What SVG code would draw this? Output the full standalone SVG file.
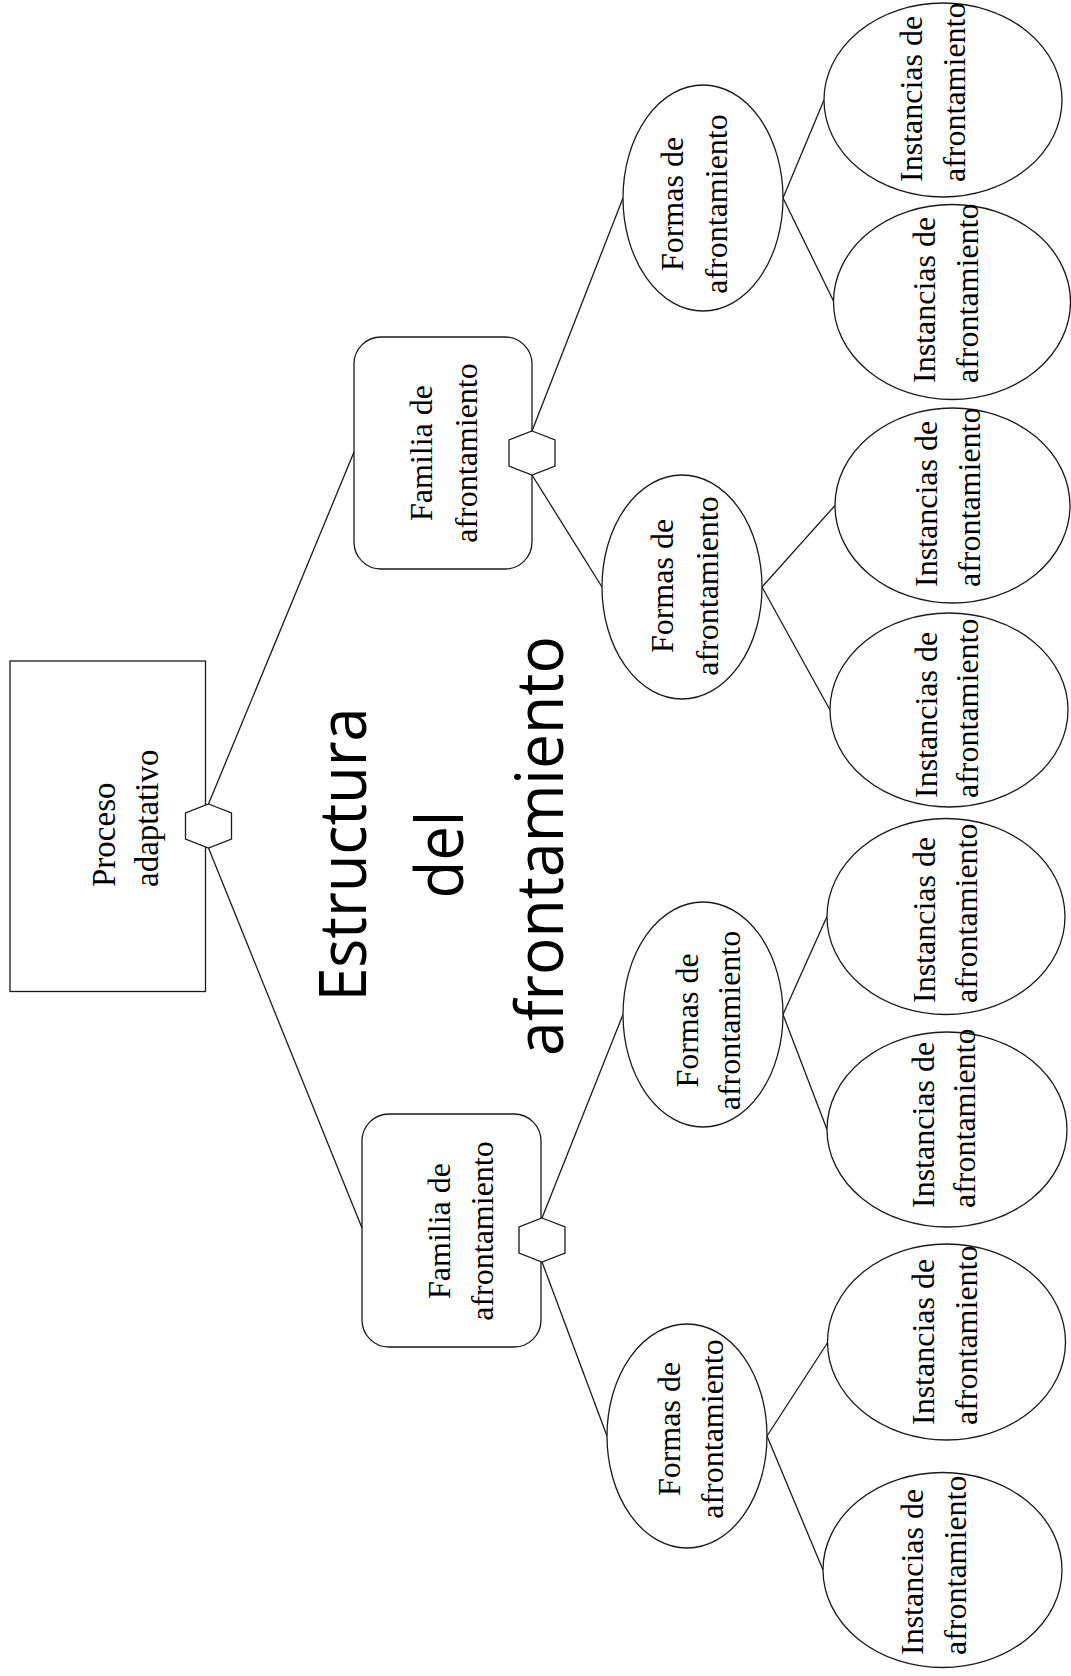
<svg xmlns="http://www.w3.org/2000/svg" width="1071" height="1676" viewBox="0 0 1071 1676">
<style>
.bg{fill:#ffffff}
.shape{fill:#ffffff;stroke:#1a1a1a;stroke-width:1.3}
.edge{fill:none;stroke:#1a1a1a;stroke-width:1.3}
.lbl{font-family:"Liberation Serif","Times New Roman",serif;font-size:32px;fill:#000}
.mid{text-anchor:middle}
.title{font-family:"Open Sans","Noto Sans",sans-serif;font-size:66px;fill:#000;text-anchor:middle}
</style>
<defs>
<polygon id="hex" points="0,-22 23,-13 23,13 0,22 -23,13 -23,-13"/>
</defs>
<rect class="bg" x="0" y="0" width="1071" height="1676"/>

<g id="connectors">
<line class="edge" x1="208.5" y1="804" x2="354" y2="452"/>
<line class="edge" x1="208.5" y1="848" x2="362" y2="1228"/>
<line class="edge" x1="532" y1="431" x2="623" y2="198"/>
<line class="edge" x1="532" y1="475" x2="602" y2="587"/>
<line class="edge" x1="542" y1="1218" x2="623" y2="1014.5"/>
<line class="edge" x1="542" y1="1262" x2="607" y2="1436"/>
<line class="edge" x1="783" y1="198" x2="824" y2="100"/>
<line class="edge" x1="783" y1="198" x2="834" y2="302"/>
<line class="edge" x1="762" y1="587" x2="835" y2="505.5"/>
<line class="edge" x1="762" y1="587" x2="830" y2="710"/>
<line class="edge" x1="783" y1="1014.5" x2="827" y2="916.5"/>
<line class="edge" x1="783" y1="1014.5" x2="827" y2="1129.5"/>
<line class="edge" x1="767" y1="1436" x2="828" y2="1342"/>
<line class="edge" x1="767" y1="1436" x2="823" y2="1570"/>
</g>

<g id="title">
<text class="title" transform="translate(0,846) rotate(-90)">
<tspan x="0" y="366" textLength="294" lengthAdjust="spacingAndGlyphs">Estructura</tspan>
<tspan x="0" y="463" textLength="88" lengthAdjust="spacingAndGlyphs">del</tspan>
<tspan x="0" y="563" textLength="420" lengthAdjust="spacingAndGlyphs">afrontamiento</tspan>
</text>
</g>

<g id="proceso">
<rect class="shape" x="10" y="661" width="195.5" height="330.5"/>
<use href="#hex" class="shape" x="208.5" y="826"/>
<text class="lbl" style="font-size:33px" transform="translate(115,887) rotate(-90)"><tspan x="0" y="0">Proceso</tspan><tspan x="0" y="43">adaptativo</tspan></text>
</g>

<g id="familia1">
<rect class="shape" x="354" y="337" width="178" height="232" rx="27" ry="27"/>
<use href="#hex" class="shape" x="532" y="453"/>
<text class="lbl mid" transform="translate(432,453) rotate(-90)"><tspan x="0" y="0">Familia de</tspan><tspan x="0" y="45">afrontamiento</tspan></text>
</g>

<g id="familia2">
<rect class="shape" x="362" y="1114" width="179" height="233" rx="27" ry="27"/>
<use href="#hex" class="shape" x="542" y="1240"/>
<text class="lbl mid" transform="translate(450,1231) rotate(-90)"><tspan x="0" y="0">Familia de</tspan><tspan x="0" y="43">afrontamiento</tspan></text>
</g>

<g id="formas1">
<ellipse class="shape" cx="703" cy="198" rx="80" ry="113"/>
<text class="lbl mid" transform="translate(683,204) rotate(-90)"><tspan x="0" y="0">Formas de</tspan><tspan x="0" y="44">afrontamiento</tspan></text>
</g>
<g id="formas2">
<ellipse class="shape" cx="682" cy="587" rx="80" ry="112"/>
<text class="lbl mid" transform="translate(673,586) rotate(-90)"><tspan x="0" y="0">Formas de</tspan><tspan x="0" y="45">afrontamiento</tspan></text>
</g>
<g id="formas3">
<ellipse class="shape" cx="703" cy="1014.5" rx="80" ry="112.5"/>
<text class="lbl mid" transform="translate(698,1020.5) rotate(-90)"><tspan x="0" y="0">Formas de</tspan><tspan x="0" y="42">afrontamiento</tspan></text>
</g>
<g id="formas4">
<ellipse class="shape" cx="687" cy="1436" rx="80" ry="112"/>
<text class="lbl mid" transform="translate(680,1429) rotate(-90)"><tspan x="0" y="0">Formas de</tspan><tspan x="0" y="43">afrontamiento</tspan></text>
</g>

<g id="instancias1">
<ellipse class="shape" cx="943" cy="100" rx="119" ry="97"/>
<text class="lbl" transform="translate(922,182) rotate(-90)"><tspan x="0" y="0">Instancias de</tspan><tspan x="0" y="43">afrontamiento</tspan></text>
</g>
<g id="instancias2">
<ellipse class="shape" cx="952" cy="302" rx="118.5" ry="97.5"/>
<text class="lbl" transform="translate(935,383) rotate(-90)"><tspan x="0" y="0">Instancias de</tspan><tspan x="0" y="43">afrontamiento</tspan></text>
</g>
<g id="instancias3">
<ellipse class="shape" cx="952.5" cy="505.5" rx="117.5" ry="97.5"/>
<text class="lbl" transform="translate(937,587) rotate(-90)"><tspan x="0" y="0">Instancias de</tspan><tspan x="0" y="43">afrontamiento</tspan></text>
</g>
<g id="instancias4">
<ellipse class="shape" cx="949" cy="710" rx="119" ry="97"/>
<text class="lbl" transform="translate(937,798) rotate(-90)"><tspan x="0" y="0">Instancias de</tspan><tspan x="0" y="41">afrontamiento</tspan></text>
</g>
<g id="instancias5">
<ellipse class="shape" cx="946" cy="916.5" rx="119" ry="98"/>
<text class="lbl" transform="translate(935,1003) rotate(-90)"><tspan x="0" y="0">Instancias de</tspan><tspan x="0" y="42">afrontamiento</tspan></text>
</g>
<g id="instancias6">
<ellipse class="shape" cx="947" cy="1129.5" rx="120" ry="97.5"/>
<text class="lbl" transform="translate(934,1208) rotate(-90)"><tspan x="0" y="0">Instancias de</tspan><tspan x="0" y="41">afrontamiento</tspan></text>
</g>
<g id="instancias7">
<ellipse class="shape" cx="946.5" cy="1342" rx="119" ry="98"/>
<text class="lbl" transform="translate(934,1425) rotate(-90)"><tspan x="0" y="0">Instancias de</tspan><tspan x="0" y="43">afrontamiento</tspan></text>
</g>
<g id="instancias8">
<ellipse class="shape" cx="942.5" cy="1570" rx="119.5" ry="97.5"/>
<text class="lbl" transform="translate(923,1655) rotate(-90)"><tspan x="0" y="0">Instancias de</tspan><tspan x="0" y="43">afrontamiento</tspan></text>
</g>
</svg>
